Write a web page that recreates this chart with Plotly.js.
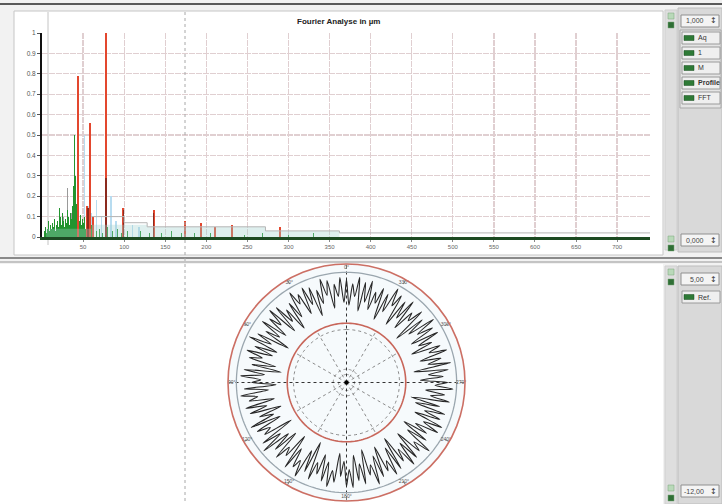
<!DOCTYPE html>
<html><head><meta charset="utf-8">
<script src="https://cdn.plot.ly/plotly-3.0.1.min.js"></script>
<style>html,body{margin:0;padding:0;background:#f2f2f2}#c{width:722px;height:504px}</style>
</head><body><div id="c"></div>
<script>
// ---------- data ----------
const xTicks = [50,100,150,200,250,300,350,400,450,500,550,600,650,700];
const yTicks = [0,0.1,0.2,0.3,0.4,0.5,0.6,0.7,0.8,0.9,1];
const yTickText = ['0','0.1','0.2','0.3','0.4','0.5','0.6','0.7','0.8','0.9','1'];

const greenFreq = [3,4,5,6,7,8,9,10,11,12,13,14,15,16,17,18,19,20,21,22,23,24,25,26,27,28,29,30,31,32,33,34,35,36,37,38,39,40,41,42,43,44,45,46,47,48,49,50,51,52,53,54,55,56,57,58,59,60,62,66,70,74,80,86,92,97,104,112,120,131,145,158,170,186,205,224,246,268,300,330];
const greenAmp  = [0.03,0.05,0.02,0.06,0.04,0.08,0.03,0.06,0.10,0.04,0.07,0.05,0.09,0.03,0.11,0.06,0.08,0.05,0.14,0.07,0.10,0.06,0.12,0.08,0.05,0.11,0.09,0.07,0.13,0.10,0.06,0.20,0.12,0.09,0.15,0.25,0.18,0.50,0.30,0.16,0.12,0.09,0.14,0.08,0.11,0.06,0.09,0.05,0.07,0.10,0.04,0.06,0.08,0.03,0.05,0.07,0.04,0.06,0.03,0.03,0.04,0.02,0.05,0.03,0.04,0.02,0.03,0.02,0.03,0.02,0.02,0.03,0.02,0.02,0.02,0.02,0.01,0.02,0.01,0.02];

const grayFreq = [26,31,36];
const grayAmp  = [0.10,0.24,0.12];

const blueFreq = [52,56,60,66,72,84,90,110,118];
const blueAmp  = [0.50,0.15,0.12,0.18,0.10,0.20,0.08,0.06,0.05];

const redFreq = [44,55,58,62,78,99,136,174,193,211,231,290];
const redAmp  = [0.79,0.15,0.56,0.10,1.00,0.14,0.13,0.08,0.07,0.05,0.06,0.05];

const darkRedFreq = [56,78,99,136];
const darkRedAmp  = [0.14,0.29,0.13,0.12];

const stepFreq = [60,100,128,272,362,740];
const stepAmp  = [0.10,0.07,0.05,0.03,0.02,0.02];

const bandFreq = [5,60,128,272,362];
const bandAmp  = [0.04,0.06,0.05,0.03,0.015];

// roundness profile (µm), one value every 1.8°
const profile = [
2.8,-0.5,3.1,0.4,2.2,-1.2,2.9,0.8,3.3,-0.2,
1.9,-1.8,2.6,0.2,3.0,-0.9,2.4,1.1,3.2,-0.6,
2.0,-2.1,1.5,-0.3,2.7,-1.5,3.1,0.5,2.3,-1.0,
2.9,-0.4,1.7,-2.3,2.5,0.1,3.4,-1.1,2.1,-0.7,
3.0,0.6,2.4,-1.6,1.8,-2.5,2.8,-0.2,3.2,0.3,
1.6,-1.9,2.7,-0.8,3.3,0.9,2.2,-1.4,2.9,-0.1,
2.5,-2.0,1.4,-0.6,3.1,-1.3,2.6,0.7,1.9,-2.4,
2.8,0.0,3.4,-0.9,2.0,-1.7,2.7,0.4,1.6,-2.2,
3.0,-0.5,2.3,1.0,3.3,-1.0,2.1,-2.6,2.9,0.2,
1.8,-1.2,2.6,-0.3,3.2,0.8,2.4,-1.8,1.5,-0.7,
2.9,0.5,3.1,-1.5,2.2,-0.2,2.8,-2.1,1.7,0.3,
3.3,-0.8,2.5,-1.9,2.0,0.6,3.0,-1.1,2.6,-2.3,
1.9,0.1,3.2,-0.4,2.7,-1.6,2.3,0.9,3.4,-0.9,
2.1,-2.0,1.6,-0.5,2.9,0.4,3.1,-1.3,2.4,-0.1,
2.8,-1.7,1.8,-2.5,3.0,0.2,2.2,-0.6,3.3,0.7,
2.5,-1.4,1.9,-0.2,2.7,-2.2,3.2,0.0,2.0,-1.0,
3.1,0.6,2.4,-1.8,1.5,-0.4,2.9,-1.2,2.6,0.3,
3.4,-0.7,2.1,-2.4,2.8,0.5,1.7,-1.5,3.0,-0.3,
2.3,-1.9,2.7,0.8,3.3,-0.6,2.0,-2.1,2.5,0.1,
1.6,-1.1,3.0,-0.2,2.6,-1.6,3.2,0.4,2.2,-0.9];

const radialRange = [-12, 5];
const redRefLevels = [-3.5];
const grayRefLevels = [3.8];
const dottedLevels = [-10.85, -10.1, -4.4];
const labelLevel = 4.45;
const spokeAngles = [0,30,60,90,120,150,180,210,240,270,300,330];
const angleLabels = ['0°','30°','60°','90°','120°','150°','180°','210°','240°','270°','300°','330°'];

const topScaleTop = '1,000', topScaleBottom = '0,000';
const channelLabels = ['Aq','1','M','Profile','FFT'];
const botScaleTop = '5,00', botRefLabel = 'Ref.', botScaleBottom = '-12,00';

// ---------- helpers ----------
const W = 722, H = 504;
const X = p => p / W, Y = p => 1 - p / H;
function circle(r){ const th=[], rr=[]; for(let a=0;a<=360;a+=2){th.push(a);rr.push(r);} return {th, rr}; }
const FONT = 'Liberation Sans, Arial, sans-serif';

const traces = [];
traces.push({type:'scatter', x:bandFreq, y:bandAmp, mode:'lines', line:{shape:'hv', width:0, color:'rgba(0,0,0,0)'}, fill:'tozeroy', fillcolor:'rgba(160,210,205,0.35)', hoverinfo:'skip', xaxis:'x', yaxis:'y'});
traces.push({type:'bar', x:blueFreq, y:blueAmp, width:1.6, marker:{color:'#b8dcf0', line:{width:0}}, xaxis:'x', yaxis:'y'});
traces.push({type:'bar', x:grayFreq, y:grayAmp, width:1.2, marker:{color:'#9a9a9a', line:{width:0}}, xaxis:'x', yaxis:'y'});
traces.push({type:'bar', x:greenFreq, y:greenAmp, width:1.0, marker:{color:'#23942f', line:{width:0}}, xaxis:'x', yaxis:'y'});
traces.push({type:'scatter', x:stepFreq, y:stepAmp, mode:'lines', line:{shape:'hv', width:1, color:'#b5b5b5'}, xaxis:'x', yaxis:'y'});
traces.push({type:'bar', x:redFreq, y:redAmp, width:2.6, marker:{color:'#e3472e', line:{width:0}}, xaxis:'x', yaxis:'y'});
traces.push({type:'bar', x:darkRedFreq, y:darkRedAmp, width:1.6, marker:{color:'#8c2a1e', line:{width:0}}, xaxis:'x', yaxis:'y'});
traces.push({type:'scatter', x:[0], y:[0], mode:'markers', marker:{opacity:0}, hoverinfo:'skip', xaxis:'x', yaxis:'y2'});

// polar
dottedLevels.forEach(l=>{const c=circle(l); traces.push({type:'scatterpolar', theta:c.th, r:c.rr, mode:'lines', line:{color:'#8a8a8a', width:1, dash:'dot'}, subplot:'polar', hoverinfo:'skip'});});
spokeAngles.forEach(a=>{
  const full = (a % 90 === 0);
  traces.push({type:'scatterpolar', theta:[a,a], r:[radialRange[0], full ? radialRange[1] : redRefLevels[0]], mode:'lines', line:{color: full ? '#333' : '#8a8a8a', width:1, dash:'dot'}, subplot:'polar', hoverinfo:'skip'});
});
grayRefLevels.forEach(l=>{const c=circle(l); traces.push({type:'scatterpolar', theta:c.th, r:c.rr, mode:'lines', line:{color:'#9aa6ae', width:1.3}, subplot:'polar', hoverinfo:'skip'});});
redRefLevels.forEach(l=>{const c=circle(l); traces.push({type:'scatterpolar', theta:c.th, r:c.rr, mode:'lines', line:{color:'#c8665a', width:1.6}, subplot:'polar', hoverinfo:'skip'});});
const profTheta = profile.map((v,i)=> i*360/profile.length);
traces.push({type:'scatterpolar', theta:profTheta.concat([360]), r:profile.concat([profile[0]]), mode:'lines', line:{color:'#262626', width:1.1, shape:'spline', smoothing:0.7}, subplot:'polar'});
traces.push({type:'scatterpolar', theta:[0], r:[radialRange[0]], mode:'markers', marker:{color:'#000', size:4}, subplot:'polar'});
traces.push({type:'scatterpolar', theta:spokeAngles, r:spokeAngles.map(()=>labelLevel), mode:'text', text:angleLabels, textfont:{family:FONT, size:5, color:'#555'}, subplot:'polar', hoverinfo:'skip'});

// ---------- chrome ----------
const shapes = [];
const rect = (x0,y0,x1,y1,fill,line,lw) => shapes.push({type:'rect', xref:'paper', yref:'paper', x0:X(x0), x1:X(x1), y0:Y(y1), y1:Y(y0), fillcolor:fill, line:{color:line||'rgba(0,0,0,0)', width:lw==null?1:lw}, layer:'below'});
const hline = (x0,x1,y,color,w,dash,layer) => shapes.push({type:'line', xref:'paper', yref:'paper', x0:X(x0), x1:X(x1), y0:Y(y), y1:Y(y), line:{color, width:w, dash:dash||'solid'}, layer:layer||'below'});
const vline = (x,y0,y1,color,w,dash,layer) => shapes.push({type:'line', xref:'paper', yref:'paper', x0:X(x), x1:X(x), y0:Y(y0), y1:Y(y1), line:{color, width:w, dash:dash||'solid'}, layer:layer||'below'});

rect(14,11,663,255,'#ffffff','#c6c6c6',1);
rect(0,264,663,504,'#ffffff',null,0);
hline(0,722,4,'#5a5a5a',2);
hline(0,722,258,'#8a8a8a',2);
hline(0,722,262,'#b4b4b4',1.5);
vline(48,12,245,'#c4c4c4',1);
vline(185,12,504,'#a8a8a8',1,'dot','above');
rect(665,10,677,250,'#dedede','#cfcfcf',1);
rect(665,266,677,504,'#dedede','#cfcfcf',1);
rect(678,8,722,252,'#d9d9d9','#bdbdbd',1);
rect(678,266,722,504,'#d9d9d9','#bdbdbd',1);
rect(680,30,721,108,'#e4e4e4','#a9a9a9',1);
[16,25,239,248,272,282,488,498].forEach(y=>rect(668,y-3,674,y+3,(y===16||y===239||y===272||y===488)?'#b9d9b9':'#2f6f35','#7aa57a',0.5));

const annotations = [];
const txt = (x,y,t,opt={}) => annotations.push(Object.assign({xref:'paper', yref:'paper', x:X(x), y:Y(y), text:t, showarrow:false, xanchor:'left', yanchor:'middle', font:{family:FONT, size:7, color:'#333'}}, opt));

function valueBox(y, label){
  rect(681,y-6,719,y+6,'#f4f4f4','#8f8f8f',1);
  txt(706,y,label,{xanchor:'right', font:{family:FONT, size:7, color:'#444'}});
  txt(708,y,'↕',{font:{family:'DejaVu Sans, sans-serif', size:8, color:'#333'}});
}
valueBox(21, topScaleTop);
valueBox(240, topScaleBottom);
valueBox(279, botScaleTop);
valueBox(491, botScaleBottom);

function channelButton(y, label, bold){
  rect(682,y-6,720,y+6,'#efefef','#9a9a9a',1);
  rect(684,y-2.5,694,y+2.5,'#2e7a36','#1b4d20',0.5);
  txt(696,y,bold?'<b>'+label+'</b>':label,{font:{family:FONT, size:7, color:'#333'}});
}
channelLabels.forEach((l,i)=>channelButton(38+15*i, l, l==='Profile'));
channelButton(297, botRefLabel, false);

txt(338,22,'<b>Fourier Analyse in µm</b>',{xanchor:'center', font:{family:FONT, size:8, color:'#222'}});

const gridStyle = {showgrid:true, gridcolor:'#e0cfd1', griddash:'6px,1px', gridwidth:1.3};
const layout = {
  width:722, height:504,
  margin:{l:0,r:0,t:0,b:0},
  paper_bgcolor:'#f2f2f2', plot_bgcolor:'rgba(0,0,0,0)',
  showlegend:false, barmode:'overlay', bargap:0,
  xaxis:Object.assign({domain:[X(42),X(650)], range:[0,740], tickmode:'array', tickvals:xTicks, ticktext:xTicks.map(String),
    tickfont:{family:FONT, size:6, color:'#666'}, ticks:'outside', ticklen:2, tickcolor:'#888',
    zeroline:false, showline:true, linecolor:'#1d4a22', linewidth:2.5, anchor:'y', fixedrange:true}, gridStyle),
  yaxis:{domain:[Y(237),Y(33)], range:[0,1], tickmode:'array', tickvals:yTicks, ticktext:yTickText,
    tickfont:{family:FONT, size:6.5, color:'#555'}, ticks:'outside', ticklen:3, tickcolor:'#555',
    showgrid:false, zeroline:false, showline:true, linecolor:'#111', linewidth:2, anchor:'x', fixedrange:true},
  yaxis2:Object.assign({overlaying:'y', matches:'y', range:[0,1], tickmode:'array', tickvals:yTicks.slice(1,10), showticklabels:false, ticks:'',
    zeroline:false, showline:false, anchor:'x'}, gridStyle),
  polar:{
    domain:{x:[X(228),X(465)], y:[Y(501),Y(264)]},
    bgcolor:'rgba(240,246,250,0.6)',
    radialaxis:{range:radialRange, showgrid:false, showticklabels:false, showline:false, ticks:''},
    angularaxis:{rotation:90, direction:'counterclockwise', tickmode:'array', tickvals:spokeAngles, showticklabels:false,
      showgrid:false, ticks:'inside', ticklen:4, tickcolor:'#777',
      showline:true, linecolor:'#cc6f64', linewidth:1.6}
  },
  shapes, annotations
};
Plotly.newPlot('c', traces, layout, {staticPlot:true, displayModeBar:false});
</script></body></html>
